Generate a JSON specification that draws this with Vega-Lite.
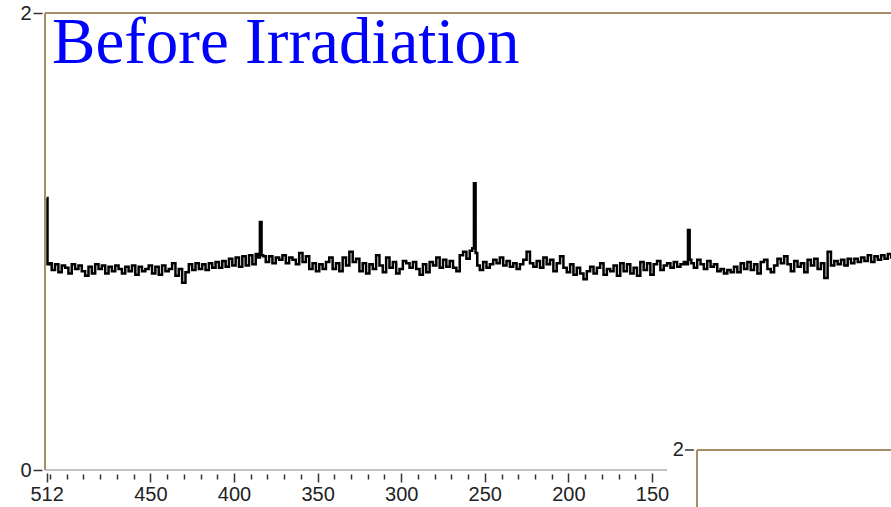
{
  "$schema": "https://vega.github.io/schema/vega-lite/v6.json",
  "width": 846,
  "height": 457,
  "autosize": {"type": "none"},
  "padding": {"left": 45, "top": 13, "right": 0, "bottom": 37},
  "background": "white",
  "config": {
    "view": {"stroke": null},
    "axis": {"grid": false, "title": null, "domain": false, "labelFont": "Liberation Sans", "labelFontSize": 20, "labelColor": "#222222", "tickColor": "#333333", "tickWidth": 1.5}
  },
  "datasets": {
    "spectrum": [
      {"ch":512,"v":1.19},{"ch":511,"v":0.9},{"ch":510,"v":0.905},{"ch":508,"v":0.875},{"ch":506,"v":0.90},{"ch":504,"v":0.865},{"ch":502,"v":0.895},{"ch":500,"v":0.885},{"ch":498,"v":0.86},{"ch":496,"v":0.90},{"ch":494,"v":0.88},{"ch":492,"v":0.895},
      {"ch":490,"v":0.87},{"ch":488,"v":0.85},{"ch":486,"v":0.89},{"ch":484,"v":0.86},{"ch":482,"v":0.9},{"ch":480,"v":0.88},{"ch":478,"v":0.895},{"ch":476,"v":0.86},{"ch":474,"v":0.89},{"ch":472,"v":0.87},
      {"ch":470,"v":0.895},{"ch":468,"v":0.88},{"ch":466,"v":0.86},{"ch":464,"v":0.89},{"ch":462,"v":0.87},{"ch":460,"v":0.895},{"ch":458,"v":0.855},{"ch":456,"v":0.89},{"ch":454,"v":0.87},{"ch":452,"v":0.88},
      {"ch":450,"v":0.895},{"ch":448,"v":0.86},{"ch":446,"v":0.89},{"ch":444,"v":0.855},{"ch":442,"v":0.895},{"ch":440,"v":0.87},{"ch":438,"v":0.88},{"ch":436,"v":0.905},{"ch":434,"v":0.85},{"ch":432,"v":0.88},
      {"ch":430,"v":0.82},{"ch":428,"v":0.865},{"ch":426,"v":0.9},{"ch":424,"v":0.875},{"ch":422,"v":0.905},{"ch":420,"v":0.88},{"ch":418,"v":0.9},{"ch":416,"v":0.875},{"ch":414,"v":0.905},{"ch":412,"v":0.885},
      {"ch":410,"v":0.91},{"ch":408,"v":0.885},{"ch":406,"v":0.915},{"ch":404,"v":0.89},{"ch":402,"v":0.925},{"ch":400,"v":0.895},{"ch":398,"v":0.93},{"ch":396,"v":0.89},{"ch":394,"v":0.935},{"ch":392,"v":0.895},
      {"ch":390,"v":0.94},{"ch":388,"v":0.9},{"ch":386,"v":0.945},{"ch":385,"v":0.93},{"ch":384,"v":1.085},{"ch":383,"v":0.94},{"ch":382,"v":0.935},{"ch":380,"v":0.91},{"ch":378,"v":0.935},{"ch":376,"v":0.905},{"ch":374,"v":0.93},{"ch":372,"v":0.92},
      {"ch":370,"v":0.94},{"ch":368,"v":0.905},{"ch":366,"v":0.93},{"ch":364,"v":0.92},{"ch":362,"v":0.9},{"ch":360,"v":0.95},{"ch":358,"v":0.91},{"ch":356,"v":0.935},{"ch":354,"v":0.88},{"ch":352,"v":0.905},
      {"ch":350,"v":0.87},{"ch":348,"v":0.9},{"ch":346,"v":0.88},{"ch":344,"v":0.91},{"ch":342,"v":0.93},{"ch":340,"v":0.88},{"ch":338,"v":0.905},{"ch":336,"v":0.87},{"ch":334,"v":0.93},{"ch":332,"v":0.895},
      {"ch":330,"v":0.955},{"ch":328,"v":0.91},{"ch":326,"v":0.925},{"ch":324,"v":0.87},{"ch":322,"v":0.905},{"ch":320,"v":0.86},{"ch":318,"v":0.9},{"ch":316,"v":0.88},{"ch":314,"v":0.94},{"ch":312,"v":0.895},
      {"ch":310,"v":0.865},{"ch":308,"v":0.93},{"ch":306,"v":0.885},{"ch":304,"v":0.91},{"ch":302,"v":0.86},{"ch":300,"v":0.88},{"ch":298,"v":0.915},{"ch":296,"v":0.905},{"ch":294,"v":0.885},{"ch":292,"v":0.91},
      {"ch":290,"v":0.88},{"ch":288,"v":0.855},{"ch":286,"v":0.9},{"ch":284,"v":0.865},{"ch":282,"v":0.91},{"ch":280,"v":0.895},{"ch":278,"v":0.93},{"ch":276,"v":0.885},{"ch":274,"v":0.92},{"ch":272,"v":0.89},
      {"ch":270,"v":0.915},{"ch":268,"v":0.885},{"ch":266,"v":0.87},{"ch":264,"v":0.94},{"ch":262,"v":0.955},{"ch":260,"v":0.925},{"ch":258,"v":0.96},{"ch":257,"v":0.97},{"ch":256,"v":1.255},{"ch":255,"v":0.95},{"ch":254,"v":0.895},{"ch":252,"v":0.875},
      {"ch":250,"v":0.91},{"ch":248,"v":0.885},{"ch":246,"v":0.9},{"ch":244,"v":0.92},{"ch":242,"v":0.905},{"ch":240,"v":0.93},{"ch":238,"v":0.895},{"ch":236,"v":0.915},{"ch":234,"v":0.89},{"ch":232,"v":0.905},
      {"ch":230,"v":0.88},{"ch":228,"v":0.9},{"ch":226,"v":0.92},{"ch":224,"v":0.955},{"ch":222,"v":0.905},{"ch":220,"v":0.89},{"ch":218,"v":0.915},{"ch":216,"v":0.885},{"ch":214,"v":0.93},{"ch":212,"v":0.9},
      {"ch":210,"v":0.92},{"ch":208,"v":0.87},{"ch":206,"v":0.905},{"ch":204,"v":0.935},{"ch":202,"v":0.885},{"ch":200,"v":0.865},{"ch":198,"v":0.9},{"ch":196,"v":0.855},{"ch":194,"v":0.885},{"ch":192,"v":0.86},
      {"ch":190,"v":0.835},{"ch":188,"v":0.87},{"ch":186,"v":0.89},{"ch":184,"v":0.86},{"ch":182,"v":0.885},{"ch":180,"v":0.905},{"ch":178,"v":0.855},{"ch":176,"v":0.88},{"ch":174,"v":0.87},{"ch":172,"v":0.895},
      {"ch":170,"v":0.85},{"ch":168,"v":0.905},{"ch":166,"v":0.87},{"ch":164,"v":0.9},{"ch":162,"v":0.86},{"ch":160,"v":0.885},{"ch":158,"v":0.85},{"ch":156,"v":0.91},{"ch":154,"v":0.875},{"ch":152,"v":0.905},
      {"ch":150,"v":0.855},{"ch":148,"v":0.9},{"ch":146,"v":0.915},{"ch":144,"v":0.875},{"ch":142,"v":0.895},{"ch":140,"v":0.905},{"ch":138,"v":0.885},{"ch":136,"v":0.91},{"ch":134,"v":0.89},{"ch":132,"v":0.9},
      {"ch":130,"v":0.91},{"ch":129,"v":0.9},{"ch":128,"v":1.05},{"ch":127,"v":0.92},{"ch":126,"v":0.905},{"ch":124,"v":0.885},{"ch":122,"v":0.92},{"ch":120,"v":0.9},{"ch":118,"v":0.88},{"ch":116,"v":0.915},{"ch":114,"v":0.89},{"ch":112,"v":0.9},
      {"ch":110,"v":0.87},{"ch":108,"v":0.88},{"ch":106,"v":0.86},{"ch":104,"v":0.875},{"ch":102,"v":0.865},{"ch":100,"v":0.89},{"ch":98,"v":0.865},{"ch":96,"v":0.905},{"ch":94,"v":0.88},{"ch":92,"v":0.91},
      {"ch":90,"v":0.875},{"ch":88,"v":0.9},{"ch":86,"v":0.86},{"ch":84,"v":0.91},{"ch":82,"v":0.92},{"ch":80,"v":0.88},{"ch":78,"v":0.865},{"ch":76,"v":0.895},{"ch":74,"v":0.925},{"ch":72,"v":0.905},
      {"ch":70,"v":0.935},{"ch":68,"v":0.9},{"ch":66,"v":0.87},{"ch":64,"v":0.915},{"ch":62,"v":0.89},{"ch":60,"v":0.905},{"ch":58,"v":0.865},{"ch":56,"v":0.92},{"ch":54,"v":0.895},{"ch":52,"v":0.925},
      {"ch":50,"v":0.88},{"ch":48,"v":0.905},{"ch":46,"v":0.84},{"ch":44,"v":0.955},{"ch":42,"v":0.895},{"ch":40,"v":0.915},{"ch":38,"v":0.9},{"ch":36,"v":0.92},{"ch":34,"v":0.895},{"ch":32,"v":0.925},
      {"ch":30,"v":0.905},{"ch":28,"v":0.925},{"ch":26,"v":0.91},{"ch":24,"v":0.93},{"ch":22,"v":0.915},{"ch":20,"v":0.94},{"ch":18,"v":0.91},{"ch":16,"v":0.935},{"ch":14,"v":0.92},{"ch":12,"v":0.94},
      {"ch":10,"v":0.925},{"ch":8,"v":0.945},{"ch":6,"v":0.93}
    ],
    "one": [{"label": "Before Irradiation", "panel": "2"}]
  },
  "resolve": {"axis": {"x": "independent"}},
  "layer": [
    {
      "data": {"name": "spectrum"},
      "mark": {"type": "line", "interpolate": "step", "color": "black", "strokeWidth": 2.5, "clip": true},
      "encoding": {
        "x": {"field": "ch", "type": "quantitative",
              "scale": {"domain": [7.1, 513], "reverse": true, "nice": false, "zero": false},
              "axis": {"orient": "bottom", "values": [512, 450, 400, 350, 300, 250, 200, 150], "tickSize": 9, "offset": 3, "labelPadding": 2, "labelFlush": false}},
        "y": {"field": "v", "type": "quantitative",
              "scale": {"domain": [0, 2], "nice": false, "zero": false},
              "axis": {"orient": "left", "values": [0, 1, 2], "tickSize": 9, "offset": 3, "labelPadding": 2, "format": "d"}}
      }
    },
    {
      "data": {"name": "one"},
      "mark": {"type": "rule", "color": "#c4c4c4", "strokeWidth": 2},
      "encoding": {
        "x": {"datum": 513, "type": "quantitative",
              "axis": {"orient": "bottom", "values": [510, 500, 490, 480, 470, 460, 440, 430, 420, 410, 390, 380, 370, 360, 340, 330, 320, 310, 290, 280, 270, 260, 240, 230, 220, 210, 190, 180, 170, 160], "tickSize": 5, "offset": 4, "labels": false}},
        "x2": {"datum": 141},
        "y": {"datum": 0, "type": "quantitative"}
      }
    },
    {
      "data": {"name": "one"},
      "mark": {"type": "rule", "color": "#a68e66", "strokeWidth": 2},
      "encoding": {
        "x": {"datum": 513, "type": "quantitative", "axis": null},
        "x2": {"datum": 7.1},
        "y": {"datum": 2, "type": "quantitative"}
      }
    },
    {
      "data": {"name": "one"},
      "mark": {"type": "rule", "color": "#a68e66", "strokeWidth": 2},
      "encoding": {
        "x": {"datum": 513, "type": "quantitative", "axis": null},
        "y": {"datum": 0, "type": "quantitative"},
        "y2": {"datum": 2}
      }
    },
    {
      "data": {"name": "one"},
      "mark": {"type": "text", "font": "Liberation Serif", "fontSize": 65, "color": "#0000ff", "align": "left", "baseline": "alphabetic"},
      "encoding": {
        "x": {"datum": 508.8, "type": "quantitative", "axis": null},
        "y": {"datum": 1.779, "type": "quantitative"},
        "text": {"field": "label"}
      }
    },
    {
      "data": {"name": "one"},
      "mark": {"type": "rule", "color": "#a68e66", "strokeWidth": 2},
      "encoding": {
        "x": {"datum": 123.1, "type": "quantitative", "axis": null},
        "x2": {"datum": 7.1},
        "y": {"datum": 0.0876, "type": "quantitative"}
      }
    },
    {
      "data": {"name": "one"},
      "mark": {"type": "rule", "color": "#a68e66", "strokeWidth": 2},
      "encoding": {
        "x": {"datum": 123.1, "type": "quantitative", "axis": null},
        "y": {"datum": 0.0876, "type": "quantitative"},
        "y2": {"datum": -0.2}
      }
    },
    {
      "data": {"name": "one"},
      "mark": {"type": "rule", "color": "#333333", "strokeWidth": 1.5},
      "encoding": {
        "x": {"datum": 130.3, "type": "quantitative", "axis": null},
        "x2": {"datum": 125.0},
        "y": {"datum": 0.0876, "type": "quantitative"}
      }
    },
    {
      "data": {"name": "one"},
      "mark": {"type": "text", "font": "Liberation Sans", "fontSize": 20, "color": "#222222", "align": "right", "baseline": "middle"},
      "encoding": {
        "x": {"datum": 131.0, "type": "quantitative", "axis": null},
        "y": {"datum": 0.0876, "type": "quantitative"},
        "text": {"field": "panel"}
      }
    }
  ]
}
